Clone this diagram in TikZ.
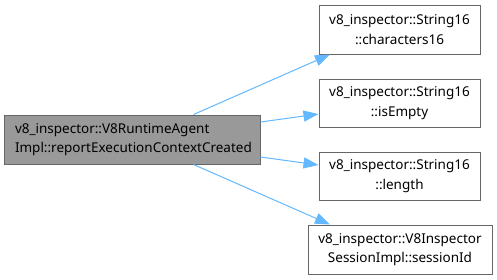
\documentclass[tikz,border=0pt]{standalone}
\usepackage{fontspec}
\setmainfont{Noto Sans}
\usetikzlibrary{arrows.meta}
\definecolor{edgeblue}{HTML}{63B8FF}
\definecolor{boxline}{HTML}{666666}
\definecolor{mainfill}{HTML}{999999}
\begin{document}
\begin{tikzpicture}[x=1pt,y=-1pt,
  fn/.style={draw=boxline, fill=white, line width=1pt, inner sep=0pt,
    align=center, font=\fontsize{13.5}{19.5}\selectfont},
  mainfn/.style={fn, fill=mainfill, align=left},
  call/.style={draw=edgeblue, line width=1pt,
    -{Triangle[length=15pt,width=11pt]}}]
\useasboundingbox (0,0) rectangle (497,279);
% caller
\node[mainfn, minimum width=256pt, minimum height=49pt, text width=234pt] (m) at (132,139.5)
  {v8\_inspector::V8RuntimeAgent\\Impl::reportExecutionContextCreated};
% callees
\node[fn, minimum width=161pt, minimum height=49pt] (a) at (399.5,29.5)
  {v8\_inspector::String16\\::characters16};
\node[fn, minimum width=161pt, minimum height=48pt] (b) at (399.5,103)
  {v8\_inspector::String16\\::isEmpty};
\node[fn, minimum width=161pt, minimum height=48pt] (c) at (399.5,176)
  {v8\_inspector::String16\\::length};
\node[fn, minimum width=184pt, minimum height=49pt] (d) at (400,249.5)
  {v8\_inspector::V8Inspector\\SessionImpl::sessionId};
% calls
\draw[call] (m.north east) ++(-67,0) -- (a.south west -| 330,0) ;
\draw[call] (m.east |- 0,122) -- (b.west |- 0,114);
\draw[call] (m.east |- 0,157) -- (c.west |- 0,165);
\draw[call] (m.south east) ++(-67,0) -- (d.north west -| 330,0);
\end{tikzpicture}
\end{document}
